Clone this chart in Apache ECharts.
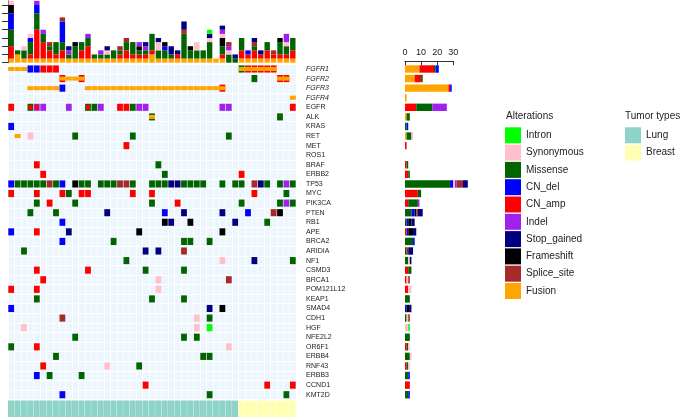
<!DOCTYPE html>
<html><head><meta charset="utf-8">
<script src="https://cdn.jsdelivr.net/npm/echarts@6/dist/echarts.min.js"></script>
<style>html,body{margin:0;padding:0;background:#fff}#c{width:680px;height:419px}</style>
</head><body><div id="c"></div>
<script>
const FONT = 'Liberation Sans, Arial, Helvetica, sans-serif';
const genes = ['FGFR1','FGFR2','FGFR3','FGFR4','EGFR','ALK','KRAS','RET','MET','ROS1','BRAF','ERBB2','TP53','MYC','PIK3CA','PTEN','RB1','APE','BRCA2','ARIDIA','NF1','CSMD3','BRCA1','POM121L12','KEAP1','SMAD4','CDH1','HGF','NFE2L2','OR6F1','ERBB4','RNF43','ERBB3','CCND1','KMT2D'];
const samples = ['P1','P2','P3','P4','P5','P6','P7','P8','P9','P10','P11','P12','P13','P14','P15','P16','P17','P18','P19','P20','P21','P22','P23','P24','P25','P26','P27','P28','P29','P30','P31','P32','P33','P34','P35','P36','P37','P38','P39','P40','P41','P42','P43','P44','P45'];
const sampleTumor = 'LLLLLLLLLLLLLLLLLLLLLLLLLLLLLLLLLLLLBBBBBBBBB';
// stacking order (bottom -> top)
const types = ['Fusion','CN_amp','Missense','CN_del','Frameshift','Synonymous','Indel','Splice_site','Stop_gained','Intron'];
const typeCode = {F:'Fusion',A:'CN_amp',M:'Missense',D:'CN_del',X:'Frameshift',S:'Synonymous',I:'Indel',P:'Splice_site',G:'Stop_gained',N:'Intron'};
const legendOrder = ['Intron','Synonymous','Missense','CN_del','CN_amp','Indel','Stop_gained','Frameshift','Splice_site','Fusion'];
const colors = {Intron:'#00FF00',Synonymous:'#FFC0CB',Missense:'#006400',CN_del:'#0000FF',CN_amp:'#FF0000',Indel:'#A020F0',Stop_gained:'#000080',Frameshift:'#000000',Splice_site:'#A52A2A',Fusion:'#FFA500'};
const tumorColors = {Lung:'#8DD3C7',Breast:'#FFFFB3'};

// oncoprint cells: "sampleIndex + alteration codes" per gene
const alterations = {
  FGFR1:'0F 1F 2F 3D 4D 5A 6A 7A 36MF 37AF 38AF 39AF 40AF 41AF',
  FGFR2:'8AF 9F 10F 11AF 38M 42AF 43AF',
  FGFR3:'3F 4F 5F 6F 7F 8D 12F 13F 14F 15F 16F 17F 18F 19F 20F 21F 22F 23F 24F 25F 26F 27F 28F 29F 30F 31F 32F 33AF',
  FGFR4:'44F',
  EGFR:'0A 3MA 4IA 5I 9I 12MA 13M 14I 17A 18A 19M 20I 21I 33I 34I 44A',
  ALK:'22MF 42M',
  KRAS:'0D',
  RET:'1F 3S 10M 19M 34M',
  MET:'18A',
  ROS1:'',
  BRAF:'4A 23M',
  ERBB2:'5A 24M 36A',
  TP53:'0D 1M 2M 3M 4M 5M 6P 7M 8D 10X 11M 12M 14M 15M 16M 17P 18P 19M 22M 23M 24M 25G 26G 27M 28M 29M 30M 33M 35M 36M 38P 39G 40M 42M 43I 44M',
  MYC:'0A 4A 8A 9M 11A 12A 19A 22A 38A 43M',
  PIK3CA:'4M 6A 10M 22M 26A 36M 42M 43I 44M',
  PTEN:'3M 7M 15G 24D 27G 33G 37D 41P 42X',
  RB1:'8D 24X 25G 28X 35G 40M',
  APE:'0D 4A 9G 20X 33X',
  BRCA2:'8D 16M 27M 28M 31M',
  ARIDIA:'2M 21G 23G 27P',
  NF1:'18M 33S 38G 44M',
  CSMD3:'4A 12A 21M 27M',
  BRCA1:'5A 23S 34P',
  POM121L12:'0A 4A 23S',
  KEAP1:'4M 22M 27M',
  SMAD4:'0D 31G 33X',
  CDH1:'8P 29S 31M',
  HGF:'2S 29S 31N',
  NFE2L2:'10M 27M 29M',
  OR6F1:'0M 4A 34S',
  ERBB4:'7M 30M 31M',
  RNF43:'5A 15S 20M',
  ERBB3:'4D 6M 11M',
  CCND1:'21A 40A 44A',
  KMT2D:'8D 31M 43M'
};

// per-sample alteration counts (top barplot)
const topFusion     = [1,2,1,1,1,1,1,1,1,1,1,1,1,1,1,1,1,1,1,1,1,1,2,1,1,1,1,1,1,1,1,1,1,1,0,0,1,1,1,1,1,1,1,1,1];
const topCNamp      = [3,0,0,1,7,4,2,1,2,0,0,2,3,0,0,0,0,1,2,1,1,1,1,0,0,0,1,0,0,0,0,0,0,1,0,0,2,1,2,1,2,1,1,1,2];
const topMissense   = [4,1,2,3,4,2,1,3,2,1,3,2,2,1,1,1,2,1,2,3,1,1,4,2,2,1,0,6,2,2,2,4,0,2,2,1,3,0,1,0,2,0,3,2,3];
const topCNdel      = [4,0,0,1,2,0,0,0,5,0,0,0,0,0,0,0,0,0,0,0,0,0,0,0,1,0,0,0,0,0,0,0,0,0,0,0,0,1,0,0,0,0,0,0,0];
const topFrameshift = [2,0,0,0,0,0,0,0,0,0,1,0,0,0,0,0,0,0,0,0,1,0,0,0,1,0,0,0,1,0,0,0,0,2,0,0,0,0,0,0,0,0,1,0,0];
const topSynonymous = [1,0,1,1,0,0,0,0,0,0,0,0,0,0,0,1,0,0,0,0,0,0,0,2,0,0,0,0,0,2,0,1,0,1,1,0,0,0,0,0,0,0,0,1,0];
const topIndel      = [0,0,0,0,1,1,0,0,0,1,0,0,1,0,1,0,0,0,0,0,1,1,0,0,0,0,0,0,0,0,0,0,0,1,1,0,0,0,0,0,0,0,0,2,0];
const topSplice     = [0,0,0,0,0,0,1,0,1,0,0,0,0,0,0,0,0,1,1,0,0,0,0,0,0,0,0,1,0,0,0,0,0,0,1,0,0,0,1,0,0,1,0,0,0];
const topStop       = [0,0,0,0,0,0,0,0,0,1,0,0,0,0,0,1,0,0,0,0,0,1,0,1,0,2,1,2,0,0,0,1,0,1,0,1,0,0,1,1,0,0,0,0,0];
const topIntron     = [0,0,0,0,0,0,0,0,0,0,0,0,0,0,0,0,0,0,0,0,0,0,0,0,0,0,0,0,0,0,0,1,0,0,0,0,0,0,0,0,0,0,0,0,0];

// per-gene alteration counts (right barplot), genes in order above
const geneFusion     = [9,6,27,1,0,1,0,1,0,0,0,0,0,0,0,0,0,0,0,0,0,0,0,0,0,0,0,0,0,0,0,0,0,0,0];
const geneCNamp      = [9,4,1,0,7,0,0,0,1,0,1,2,0,8,2,0,0,1,0,0,0,2,1,2,0,0,0,0,0,1,0,1,0,3,0];
const geneMissense   = [1,1,0,0,10,2,1,3,0,0,1,1,28,2,6,4,1,0,5,1,2,2,0,0,3,0,1,0,3,1,3,1,2,0,2];
const geneCNdel      = [2,0,1,0,0,0,1,0,0,0,0,0,2,0,0,2,1,1,1,0,0,0,0,0,0,1,0,0,0,0,0,0,1,0,1];
const geneFrameshift = [0,0,0,0,0,0,0,0,0,0,0,0,0,0,0,1,2,3,0,0,0,0,0,0,0,2,0,0,0,0,0,0,0,0,0];
const geneSynonymous = [0,0,0,0,0,0,0,1,0,0,0,0,1,0,0,0,0,0,0,0,1,0,1,2,0,0,1,2,0,1,1,1,0,0,0];
const geneIndel      = [0,0,0,0,9,0,0,0,0,0,0,0,1,0,1,0,0,0,0,0,0,0,0,0,0,0,0,0,0,0,0,0,0,0,0];
const geneSplice     = [0,0,0,0,0,0,0,0,0,0,0,0,4,0,0,1,0,0,0,1,0,0,1,0,0,0,1,0,0,0,0,0,0,0,0];
const geneStop       = [0,0,0,0,0,0,0,0,0,0,0,0,3,0,0,3,2,2,0,3,1,0,0,0,0,1,0,0,0,0,0,0,0,0,0];
const geneIntron     = [0,0,0,0,0,0,0,0,0,0,0,0,0,0,0,0,0,0,0,0,0,0,0,0,0,0,0,1,0,0,0,0,0,0,0];

const topTicks = [0,2,4,6,8,10,12,14];
const rightTicks = [0,10,20,30];

const topByType = {Fusion:topFusion,CN_amp:topCNamp,Missense:topMissense,CN_del:topCNdel,Frameshift:topFrameshift,Synonymous:topSynonymous,Indel:topIndel,Splice_site:topSplice,Stop_gained:topStop,Intron:topIntron};
const geneByType = {Fusion:geneFusion,CN_amp:geneCNamp,Missense:geneMissense,CN_del:geneCNdel,Frameshift:geneFrameshift,Synonymous:geneSynonymous,Indel:geneIndel,Splice_site:geneSplice,Stop_gained:geneStop,Intron:geneIntron};

// build cell records [sample, gene, typeIndex, layer]
const cells = [];
genes.forEach((g, gi) => {
  const s = alterations[g].trim();
  if (!s) return;
  s.split(/\s+/).forEach(tok => {
    const m = tok.match(/^(\d+)([A-Z]+)$/);
    const col = +m[1];
    m[2].split('').forEach((c, li) => {
      cells.push([col, gi, types.indexOf(typeCode[c]), li]);
    });
  });
});

const L = 8, W = 288;
const gridHeatTop = 64.2, gridHeatH = 335.3;

const option = {
  animation: false,
  textStyle: {fontFamily: FONT},
  title: [
    {text:'Alterations', left:506, top:111, padding:0, textStyle:{fontSize:10, fontWeight:'normal', color:'#222', fontFamily:FONT}},
    {text:'Tumor types', left:625, top:111, padding:0, textStyle:{fontSize:10, fontWeight:'normal', color:'#222', fontFamily:FONT}}
  ],
  legend: [
    {data: legendOrder, orient:'vertical', left:505, top:127.3, padding:0, itemWidth:16, itemHeight:16, itemGap:1.3, icon:'rect', selectedMode:false,
     textStyle:{fontSize:10, color:'#222', fontFamily:FONT}},
    {data: ['Lung','Breast'], orient:'vertical', left:625, top:127.3, padding:0, itemWidth:16, itemHeight:16, itemGap:1.3, icon:'rect', selectedMode:false,
     textStyle:{fontSize:10, color:'#222', fontFamily:FONT}}
  ],
  grid: [
    {left:L, top:0.9, width:W, height:61.8},
    {left:L, top:gridHeatTop, width:W, height:gridHeatH, show:true, backgroundColor:'#EDF5FD', borderWidth:0},
    {left:L, top:400.5, width:W, height:16.5},
    {left:405, top:gridHeatTop, width:39*1.61, height:gridHeatH},
    {left:405, top:61.2, width:48.3, height:0.5}
  ],
  xAxis: [
    {type:'category', gridIndex:0, data:samples, show:false},
    {type:'category', gridIndex:1, data:samples, axisLine:{show:false}, axisTick:{show:false}, axisLabel:{show:false},
     splitLine:{show:true, interval:0, lineStyle:{color:'#ffffff', width:0.8}}},
    {type:'category', gridIndex:2, data:samples, show:false},
    {type:'value', gridIndex:3, min:0, max:39, show:false},
    {type:'value', gridIndex:4, min:0, max:30, interval:10, position:'top',
     axisLine:{show:true, lineStyle:{color:'#000', width:0.8}},
     axisTick:{show:true, inside:true, length:4, lineStyle:{color:'#000', width:0.8}},
     axisLabel:{show:true, fontSize:9, color:'#222', margin:4, fontFamily:FONT, customValues:rightTicks},
     splitLine:{show:false}}
  ],
  yAxis: [
    {type:'value', gridIndex:0, min:0, max:15, interval:2,
     axisLine:{show:true, lineStyle:{color:'#000', width:0.8}},
     axisTick:{show:true, length:6, lineStyle:{color:'#000', width:0.8}, customValues:topTicks},
     axisLabel:{show:false}, splitLine:{show:false}},
    {type:'category', gridIndex:1, data:genes, inverse:true, position:'right',
     axisLine:{show:false}, axisTick:{show:false},
     axisLabel:{show:true, fontSize:7, color:'#222', margin:10, fontFamily:FONT,
       formatter: v => /^FGFR/.test(v) ? '{it|' + v + '}' : v,
       rich:{it:{fontStyle:'italic', fontSize:7, color:'#222', fontFamily:FONT}}},
     splitLine:{show:true, interval:0, lineStyle:{color:'#ffffff', width:0.8}}},
    {type:'category', gridIndex:2, data:['Tumor'], show:false},
    {type:'category', gridIndex:3, data:genes, inverse:true, show:false},
    {type:'category', gridIndex:4, data:[''], show:false}
  ],
  series: []
};

// top stacked bars
types.forEach(t => {
  option.series.push({name:t, type:'bar', xAxisIndex:0, yAxisIndex:0, stack:'top', barWidth:5.4,
    itemStyle:{color:colors[t]}, data: topByType[t]});
});

// oncoprint cells
option.series.push({
  name:'cells', type:'custom', xAxisIndex:1, yAxisIndex:1, data: cells, clip:false,
  renderItem: (params, api) => {
    const p = api.coord([api.value(0), api.value(1)]);
    const sz = api.size([1, 1]);
    const w = sz[0], h = sz[1];
    const t = types[api.value(2)], layer = api.value(3);
    let rw, rh;
    if (t === 'Fusion') { rw = w - 0.3; rh = h * 0.42; }
    else if (layer === 0) { rw = w - 0.6; rh = h * 0.74; }
    else { rw = w * 0.62; rh = h * 0.5; }
    return {type:'rect', shape:{x:p[0]-rw/2, y:p[1]-rh/2, width:rw, height:rh}, style:{fill:colors[t]}};
  }
});

// tumor type annotation
['Lung','Breast'].forEach(tt => {
  const d = [];
  sampleTumor.split('').forEach((c, i) => { if ((c === 'L' ? 'Lung' : 'Breast') === tt) d.push([i, 0]); });
  option.series.push({name:tt, type:'custom', xAxisIndex:2, yAxisIndex:2, data:d, itemStyle:{color:tumorColors[tt]},
    renderItem: (params, api) => {
      const p = api.coord([api.value(0), api.value(1)]);
      const sz = api.size([1, 1]);
      return {type:'rect', shape:{x:p[0]-sz[0]/2, y:p[1]-sz[1]/2, width:sz[0]-0.3, height:sz[1]}, style:{fill:tumorColors[tt]}};
    }});
});

// right stacked bars
types.forEach(t => {
  option.series.push({name:t, type:'bar', xAxisIndex:3, yAxisIndex:3, stack:'right', barWidth:7.4,
    itemStyle:{color:colors[t]}, data: geneByType[t]});
});

const chart = echarts.init(document.getElementById('c'), null, {renderer:'canvas'});
chart.setOption(option);
</script></body></html>
